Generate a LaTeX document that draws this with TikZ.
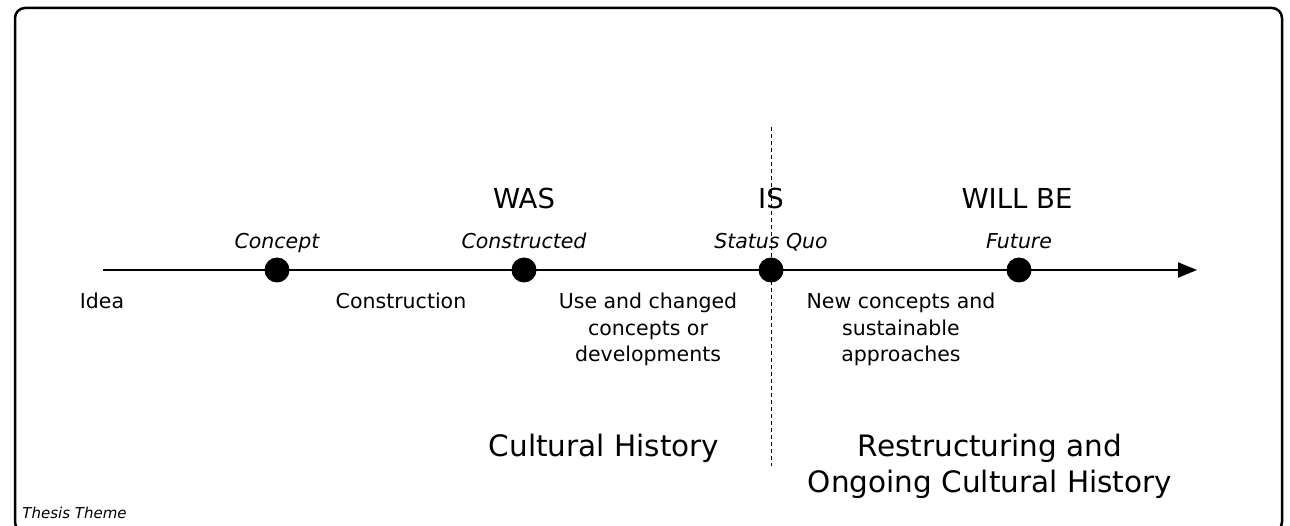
\documentclass[tikz,border=0pt]{standalone}
\usepackage{fontspec}
\setmainfont{DejaVu Sans}
\usetikzlibrary{positioning, arrows.meta}

\begin{document}
\begin{tikzpicture}[
                    x=1pt, y=-1pt,
                    thick,
                    dot/.style={circle, fill=black, inner sep=0pt, minimum size=25pt},
                    phase/.style={font=\itshape\fontsize{20.5}{24}\selectfont, anchor=base},
                    tense/.style={font=\fontsize{27.5}{32}\selectfont, anchor=base},
                    stage/.style={font=\fontsize{20.5}{26.5}\selectfont, align=center, anchor=north, inner sep=0pt},
                    era/.style={font=\fontsize{29.5}{36}\selectfont, align=center, anchor=north, inner sep=0pt}
                ]
                  \useasboundingbox (0,0) rectangle (1290,526);
                  \draw[line width=2.5pt, rounded corners=10pt] (15,8) rectangle (1282,532);

                  % timeline
                  \coordinate (start) at (103,270);
                  \coordinate (end) at (1197,270);
                  \draw[line width=2.2pt, -{Triangle[length=19pt, width=15pt]}] (start) -- (end);

                  % divider between past and future
                  \coordinate (divtop) at (771,127);
                  \coordinate (divbot) at (771,466);
                  \draw[thin, dash pattern=on 4pt off 3pt] (divtop) -- (divbot);

                  \node[dot] (concept) at (277,270) {};
                  \node[dot] (constructed) at (524,270) {};
                  \node[dot] (statusquo) at (771,270) {};
                  \node[dot] (future) at (1019,270) {};

                  \node[phase] (conceptlbl) at (277,248.5) {Concept};
                  \node[phase] (constructedlbl) at (524,248.5) {Constructed};
                  \node[phase] (statusquolbl) at (771,248.5) {Status Quo};
                  \node[phase] (futurelbl) at (1019,248.5) {Future};

                  \node[tense] (was) at (524,208.5) {WAS};
                  \node[tense] (is) at (771,208.5) {IS};
                  \node[tense] (willbe) at (1017,208.5) {WILL BE};

                  \node[stage] (idea) at (102,293) {Idea};
                  \node[stage] (construction) at (401,293) {Construction};
                  \node[stage] (use) at (648,293) {Use and changed\\concepts or\\developments};
                  \node[stage] (newconcepts) at (901,293) {New concepts and\\sustainable\\approaches};

                  \node[era] (history) at (604,434) {Cultural History};
                  \node[era] (restructuring) at (990,434) {Restructuring and\\Ongoing Cultural History};

                  \node[font=\itshape\fontsize{15}{18}\selectfont, anchor=base west, inner sep=0pt] (theme) at (22,518) {Thesis Theme};
                \end{tikzpicture}
\end{document}
